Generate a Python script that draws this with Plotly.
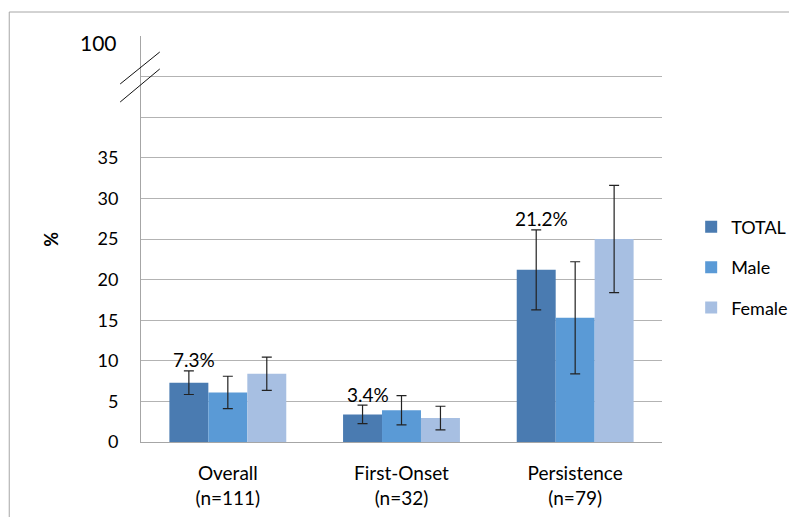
import plotly.graph_objects as go

categories = ["Overall<br>(n=111)", "First-Onset<br>(n=32)", "Persistence<br>(n=79)"]
total_vals = [7.3, 3.4, 21.2]
total_err = [1.45, 1.13, 4.93]
male_vals = [6.1, 3.9, 15.3]
male_err = [2.0, 1.8, 6.9]
female_vals = [8.4, 2.95, 25.0]
female_err = [2.05, 1.45, 6.6]
total_labels = ["7.3%", "3.4%", "21.2%"]
tick_vals = [0, 5, 10, 15, 20, 25, 30, 35, 40, 45, 50]
tick_text = ["0", "5", "10", "15", "20", "25", "30", "35", "", "", ""]

FONT = "Lato"
TXT = "#000000"
err_style = dict(type="data", visible=True, color="#222222", thickness=1.2, width=5)

fig = go.Figure()
series = [
    ("TOTAL", total_vals, total_err, "#4a7bb1"),
    ("Male", male_vals, male_err, "#5a9ad6"),
    ("Female", female_vals, female_err, "#a7bfe2"),
]
for name, vals, errs, col in series:
    fig.add_trace(go.Bar(
        name=name, x=categories, y=vals,
        marker=dict(color=col, line=dict(width=0)),
        error_y=dict(array=errs, **err_style),
        legendgroup=name,
    ))

annotations = []
for cat, v, e, lab in zip(categories, total_vals, total_err, total_labels):
    annotations.append(dict(
        x=cat, y=v + e, xref="x", yref="y", text=lab, showarrow=False,
        xshift=-34, yshift=11, yanchor="middle",
        font=dict(family=FONT, size=19, color=TXT),
    ))

annotations.append(dict(x=-0.081, y=0.983, xref="paper", yref="paper", text="100",
                        showarrow=False, font=dict(family=FONT, size=21, color=TXT),
                        xanchor="center", yanchor="middle"))
annotations.append(dict(x=-0.173, y=0.50, xref="paper", yref="paper", text="<b>%</b>",
                        showarrow=False, textangle=-90,
                        font=dict(family=FONT, size=18, color=TXT),
                        xanchor="center", yanchor="middle"))

shapes = [
    # axis break marks
    dict(type="line", xref="paper", yref="y", x0=-0.040, y0=44.09, x1=0.036, y1=48.03,
         line=dict(color="#111", width=1)),
    dict(type="line", xref="paper", yref="y", x0=-0.040, y0=41.87, x1=0.036, y1=45.94,
         line=dict(color="#111", width=1)),
    # outer chart frame (top and left)
    dict(type="line", xref="paper", yref="paper", x0=-0.2529, y0=1.0591, x1=1.25, y1=1.0591,
         line=dict(color="#a6a6a6", width=1)),
    dict(type="line", xref="paper", yref="paper", x0=-0.2529, y0=1.0591, x1=-0.2529, y1=-0.2,
         line=dict(color="#a6a6a6", width=1)),
]

fig.update_layout(
    width=797, height=517,
    margin=dict(l=133, r=138, t=28, b=83),
    paper_bgcolor="white", plot_bgcolor="white",
    barmode="group", bargap=0.327, bargroupgap=0,
    font=dict(family=FONT, size=18, color=TXT),
    showlegend=True,
    legend=dict(x=1.056, y=0.575, xanchor="left", yanchor="top",
                traceorder="grouped", tracegroupgap=14,
                font=dict(family=FONT, size=18, color=TXT),
                itemwidth=30, bgcolor="rgba(0,0,0,0)"),
    annotations=annotations,
    shapes=shapes,
)
fig.update_xaxes(showgrid=False, showline=True, linecolor="#a6a6a6", linewidth=1,
                 ticks="", ticklabelstandoff=14,
                 tickfont=dict(family=FONT, size=19, color=TXT))
fig.update_yaxes(range=[0, 50], tickmode="array", tickvals=tick_vals, ticktext=tick_text,
                 showgrid=True, gridcolor="#b3b3b3", gridwidth=1,
                 showline=True, linecolor="#a6a6a6", linewidth=1,
                 zeroline=False, ticks="", ticklabelstandoff=18,
                 tickfont=dict(family=FONT, size=18, color=TXT))

fig.write_html("out.html")
